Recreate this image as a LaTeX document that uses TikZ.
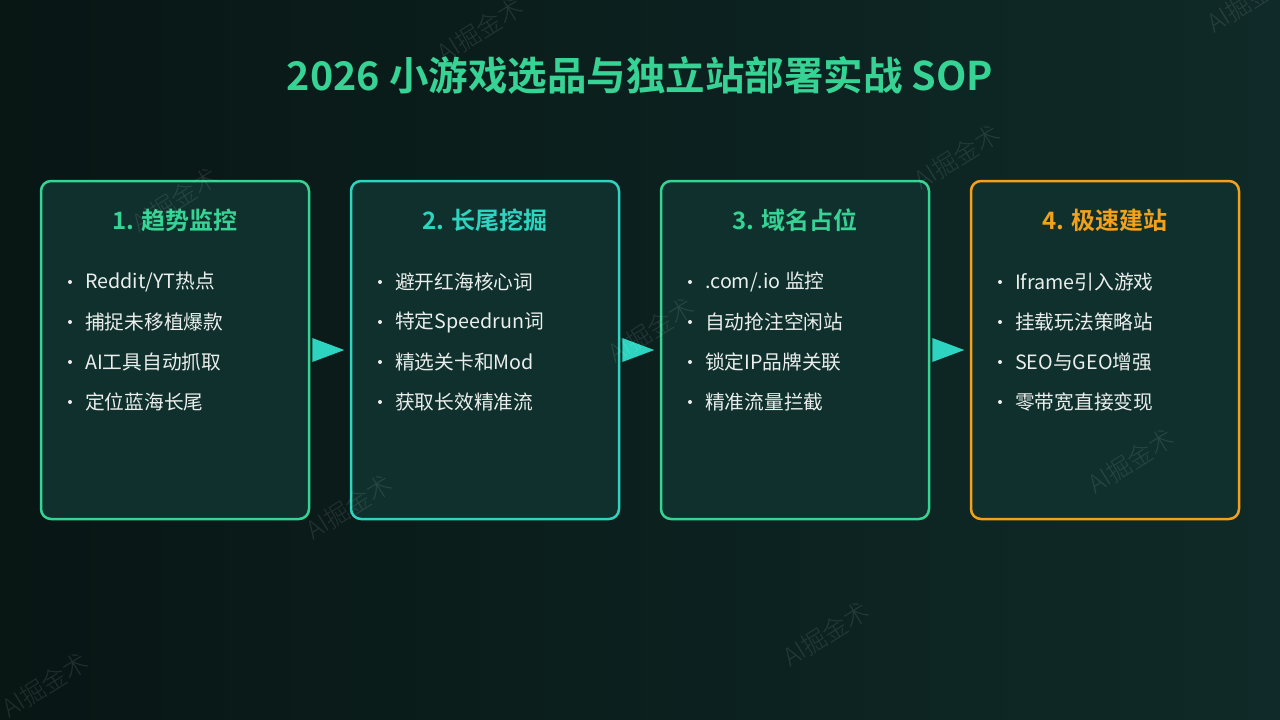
\documentclass[tikz,border=0pt]{standalone}
\usepackage{fontspec}
\setmainfont{Noto Sans CJK SC}
\newfontfamily\cjkb{Noto Sans CJK SC Bold}
\newfontfamily\cjkl{Noto Sans CJK SC Light}
\usetikzlibrary{calc}
\definecolor{bgl}{HTML}{081614}
\definecolor{bgr}{HTML}{0F2A28}
\definecolor{boxfill}{HTML}{0F302C}
\definecolor{cgreen}{HTML}{36D395}
\definecolor{cteal}{HTML}{2DD4BF}
\definecolor{corange}{HTML}{F2A11C}
\definecolor{txt}{HTML}{EAEEEC}
\tikzset{
  stepbox/.style={draw=#1, line width=2.5pt, rounded corners=10pt, fill=boxfill,
    minimum width=268pt, minimum height=338pt, inner sep=0pt},
  headtxt/.style={font=\cjkb\fontsize{24}{27}\selectfont, text=#1},
  itemtxt/.style={font=\fontsize{19.7}{22}\selectfont, text=txt, anchor=west, inner sep=0pt},
  bulletdot/.style={circle, fill=txt, inner sep=0pt, minimum size=4pt},
  arrowtri/.style={fill=cteal, draw=none},
  wmark/.style={font=\cjkl\fontsize{25}{28}\selectfont, text=white, opacity=0.10, rotate=32}
}
\begin{document}
\begin{tikzpicture}[x=1pt,y=-1pt]
\shade[left color=bgl, right color=bgr] (0,0) rectangle (1280,720);
\useasboundingbox (0,0) rectangle (1280,720);

\node[font=\cjkb\fontsize{39.5}{44}\selectfont, text=cgreen] (title) at (640,75) {2026 小游戏选品与独立站部署实战 SOP};

% boxes
\node[stepbox=cgreen] (b1) at (175,350) {};
\node[stepbox=cteal] (b2) at (485,350) {};
\node[stepbox=cgreen] (b3) at (795,350) {};
\node[stepbox=corange] (b4) at (1105,350) {};

% headings
\node[headtxt=cgreen] (h1) at (175,220) {1. 趋势监控};
\node[headtxt=cteal] (h2) at (485,220) {2. 长尾挖掘};
\node[headtxt=cgreen] (h3) at (795,220) {3. 域名占位};
\node[headtxt=corange] (h4) at (1105,220) {4. 极速建站};

% items
\foreach \bx/\a/\b/\c/\d in {
  70/{Reddit/YT热点}/{捕捉未移植爆款}/{AI工具自动抓取}/{定位蓝海长尾},
  380/{避开红海核心词}/{特定Speedrun词}/{精选关卡和Mod}/{获取长效精准流},
  690/{.com/.io 监控}/{自动抢注空闲站}/{锁定IP品牌关联}/{精准流量拦截},
  1000/{Iframe引入游戏}/{挂载玩法策略站}/{SEO与GEO增强}/{零带宽直接变现}}{
  \foreach \t [count=\i] in {\a,\b,\c,\d}{
    \node[bulletdot] (d\bx-\i) at (\bx,{242+40*\i}) {};
    \node[itemtxt] (t\bx-\i) at ({\bx+15},{242+40*\i}) {\t};
  }
}

% arrows
\fill[arrowtri] ($(b1.east)+(2,-12)$) -- ($(b1.east)+(2,12)$) -- ($(b1.east)+(34,0)$) -- cycle;
\fill[arrowtri] ($(b2.east)+(2,-12)$) -- ($(b2.east)+(2,12)$) -- ($(b2.east)+(34,0)$) -- cycle;
\fill[arrowtri] ($(b3.east)+(2,-12)$) -- ($(b3.east)+(2,12)$) -- ($(b3.east)+(34,0)$) -- cycle;

% watermarks
\foreach \x/\y [count=\k] in {480/30, 1250/0, 175/200, 957/157, 651/330, 1131/461, 349/507, 826/634, 45/685}{
  \node[wmark] (w\k) at (\x,\y) {AI掘金术};
}
\end{tikzpicture}
\end{document}
